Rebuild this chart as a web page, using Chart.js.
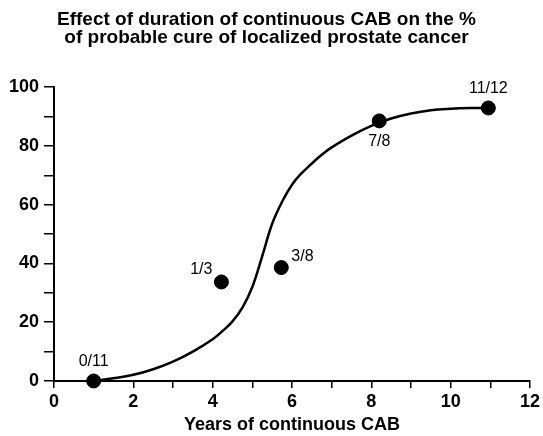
<!DOCTYPE html>
<html>
<head>
<meta charset="utf-8">
<script src="https://cdn.jsdelivr.net/npm/chart.js@4"></script>
<style>
  html, body { margin: 0; padding: 0; background: #fff; }
  #wrap { width: 543px; height: 436px; }
</style>
</head>
<body>
<div id="wrap"><canvas id="chart" width="543" height="436"></canvas></div>
<script>
// === DATA ===
const titleLines = ['Effect of duration of continuous CAB on the %', 'of probable cure of localized prostate cancer'];
const xTitle = 'Years of continuous CAB';

// observed points (years, % cured) and their fraction labels
const obsYears = [1, 4.22, 5.73, 8.2, 10.95];
const obsCure = [0, 33.7, 38.6, 88.5, 92.9];
const obsLabels = ['0/11', '1/3', '3/8', '7/8', '11/12'];
const labelSide = ['above', 'left', 'aboveRight', 'below', 'above'];

// fitted curve
const curveYears = [1, 1.5, 2, 2.5, 3, 3.5, 4, 4.25, 4.5, 4.75, 5, 5.25, 5.5, 5.75, 6, 6.25, 6.5, 6.75, 7, 7.5, 8, 8.5, 9, 9.5, 10, 10.5, 10.95];
const curveCure = [0, 0.9, 2.1, 4, 6.6, 10, 14.2, 17, 20.3, 25, 32, 42.5, 53.5, 61, 66.8, 70.8, 74, 77, 79.5, 83.5, 86.8, 89.3, 91, 92.1, 92.6, 92.85, 92.9];

const FONT = "'Liberation Sans', Arial, Helvetica, sans-serif";

// === POINT LABELS ===
const pointLabels = {
    id: 'pointLabels',
    afterDatasetsDraw(chart){
        const ctx = chart.ctx;
        const xs = chart.scales.x, ys = chart.scales.y;
        ctx.save();
        ctx.font = '16px ' + FONT;
        ctx.fillStyle = '#000';
        ctx.textBaseline = 'middle';
        obsLabels.forEach((t, i)=>{
            const px = xs.getPixelForValue(obsYears[i]);
            const py = ys.getPixelForValue(obsCure[i]);
            const side = labelSide[i];
            if(side==='above'){ ctx.textAlign='center'; ctx.fillText(t, px, py-19); }
            else if(side==='below'){ ctx.textAlign='center'; ctx.fillText(t, px, py+21); }
            else if(side==='left'){ ctx.textAlign='right'; ctx.fillText(t, px-9, py-12); }
            else { ctx.textAlign='left'; ctx.fillText(t, px+10, py-11); }
        });
        ctx.restore();
    }
};

// === CHART ===
new Chart(document.getElementById('chart'), {
    type: 'scatter',
    data: {
        datasets: [
            {
                type: 'line',
                data: curveYears.map((x, i)=>({x, y: curveCure[i]})),
                borderColor: '#000',
                borderWidth: 2.5,
                pointRadius: 0,
                tension: 0.4,
                fill: false,
                clip: false,
                order: 2
            },
            {
                data: obsYears.map((x, i)=>({x, y: obsCure[i]})),
                backgroundColor: '#000',
                borderColor: '#000',
                pointRadius: 7,
                pointHoverRadius: 7,
                clip: false,
                order: 1
            }
        ]
    },
    options: {
        responsive: false,
        animation: false,
        layout: { padding: { right: 10, left: 0, bottom: 0, top: 0 } },
        plugins: {
            legend: { display: false },
            tooltip: { enabled: false },
            title: {
                display: true,
                text: titleLines,
                color: '#000',
                font: { family: FONT, size: 19, weight: 'bold', lineHeight: 0.95 },
                padding: { top: 11, bottom: 40 }
            }
        },
        scales: {
            x: {
                type: 'linear',
                min: 0, max: 12,
                afterFit: s => { s.height = 55; },
                ticks: {
                    stepSize: 1,
                    color: '#000',
                    padding: 3,
                    maxRotation: 0,
                    autoSkip: false,
                    font: { family: FONT, size: 18, weight: 'bold' },
                    callback: v => v % 2 === 0 ? v : ''
                },
                grid: { drawOnChartArea: false, drawTicks: true, tickLength: 7, color: '#000', lineWidth: 1.5 },
                border: { display: true, color: '#000', width: 2 },
                title: {
                    display: true, text: xTitle, color: '#000',
                    font: { family: FONT, size: 18, weight: 'bold' },
                    padding: { top: 1, bottom: 0 }
                }
            },
            y: {
                min: 0, max: 100,
                afterFit: s => { s.width = 54; },
                ticks: {
                    stepSize: 10,
                    color: '#000',
                    padding: 5,
                    autoSkip: false,
                    font: { family: FONT, size: 18, weight: 'bold' },
                    callback: v => v % 20 === 0 ? v : ''
                },
                grid: { drawOnChartArea: false, drawTicks: true, tickLength: 10, color: '#000', lineWidth: 1.5 },
                border: { display: true, color: '#000', width: 2 }
            }
        }
    },
    plugins: [pointLabels]
});
</script>
</body>
</html>
